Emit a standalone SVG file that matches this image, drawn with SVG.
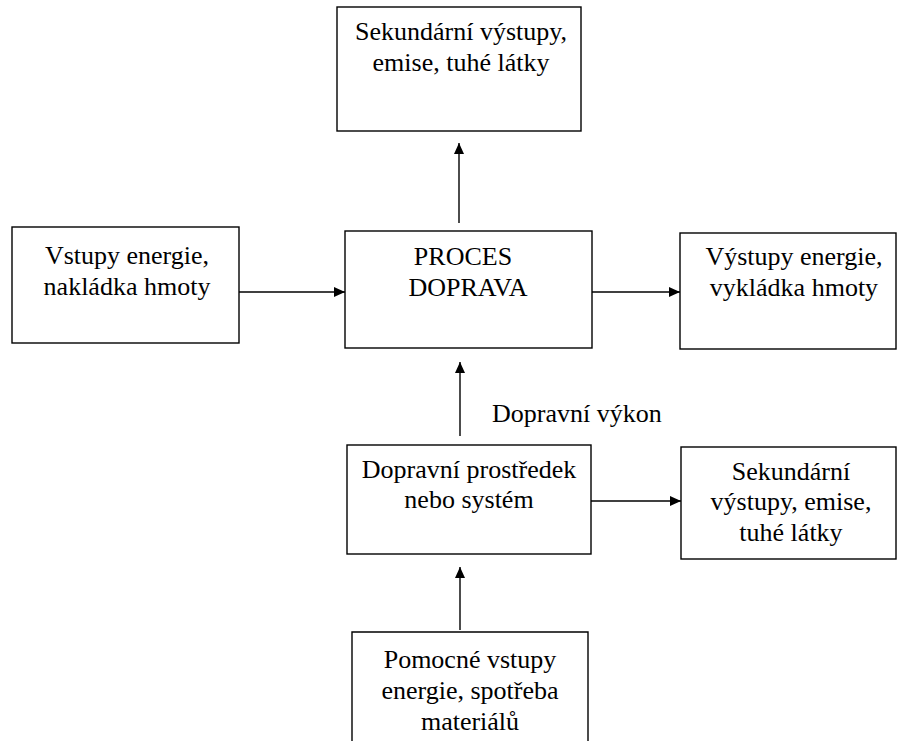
<svg xmlns="http://www.w3.org/2000/svg" width="897" height="741" viewBox="0 0 897 741">
<style>
.box{fill:#fff;stroke:#000;stroke-width:1.4}
text{font-family:'Liberation Serif','Times New Roman',serif;font-size:26px;fill:#000}
.lbl{text-anchor:middle}
.con{stroke:#000;stroke-width:1.4;fill:none;marker-end:url(#ah)}
</style>
<defs>
<marker id="ah" markerUnits="userSpaceOnUse" markerWidth="12" markerHeight="10" refX="11" refY="5" orient="auto">
<path d="M0,0 L11,5 L0,10 Z" fill="#000"/>
</marker>
</defs>
<rect width="897" height="741" fill="#fff"/>
<g id="top">
<rect class="box" x="337" y="7" width="244" height="124"/>
<text class="lbl" x="461" y="40">Sekundární výstupy,</text>
<text class="lbl" x="461" y="71">emise, tuhé látky</text>
</g>
<g id="left">
<rect class="box" x="12" y="227" width="227" height="116"/>
<text class="lbl" x="127" y="264">Vstupy energie,</text>
<text class="lbl" x="127" y="295">nakládka hmoty</text>
</g>
<g id="center">
<rect class="box" x="345" y="231" width="247" height="117"/>
<text class="lbl" x="463" y="265">PROCES</text>
<text class="lbl" x="468" y="296">DOPRAVA</text>
</g>
<g id="right">
<rect class="box" x="680" y="233" width="216" height="116"/>
<text class="lbl" x="794" y="265">Výstupy energie,</text>
<text class="lbl" x="794" y="296">vykládka hmoty</text>
</g>
<g id="vehicle">
<rect class="box" x="347" y="445" width="244" height="109"/>
<text class="lbl" x="469" y="478">Dopravní prostředek</text>
<text class="lbl" x="469" y="508">nebo systém</text>
</g>
<g id="secondary2">
<rect class="box" x="681" y="447" width="215" height="112"/>
<text class="lbl" x="791" y="480">Sekundární</text>
<text class="lbl" x="791" y="510">výstupy, emise,</text>
<text class="lbl" x="791" y="541">tuhé látky</text>
</g>
<g id="aux">
<path class="box" d="M352,745 V632 H588 V745"/>
<text class="lbl" x="470" y="668">Pomocné vstupy</text>
<text class="lbl" x="470" y="699">energie, spotřeba</text>
<text class="lbl" x="470" y="730">materiálů</text>
</g>
<g id="connectors">
<line class="con" x1="459" y1="223" x2="459" y2="143"/>
<line class="con" x1="239" y1="292" x2="345" y2="292"/>
<line class="con" x1="592" y1="292" x2="680" y2="292"/>
<line class="con" x1="460" y1="436" x2="460" y2="362"/>
<line class="con" x1="591" y1="501" x2="681" y2="501"/>
<line class="con" x1="460" y1="630" x2="460" y2="567"/>
<text x="492" y="422">Dopravní výkon</text>
</g>
</svg>
